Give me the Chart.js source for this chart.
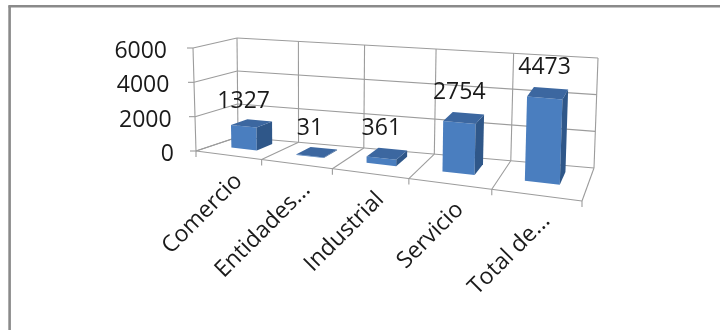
<!DOCTYPE html>
<html><head><meta charset="utf-8">
<script src="https://cdn.jsdelivr.net/npm/chart.js@4/dist/chart.umd.min.js"></script>
<style>html,body{margin:0;padding:0;background:#fff;}canvas{display:block}</style>
</head><body>
<canvas id="c" width="720" height="330"></canvas>
<script>
// ---- data ----
const categories = ['Comercio', 'Entidades...', 'Industrial', 'Servicio', 'Total de...'];
const values = [1327, 31, 361, 2754, 4473];
const yTicks = [0, 2000, 4000, 6000];
const yMin = 0, yMax = 6000;

// ---- 3D look ----
const FONT = '"Open Sans", "DejaVu Sans", sans-serif';
const BOX = { FLB:[196,151], FRB:[582,201], FLT:[193,48], FRT:[586,82],
              BLB:[238,137], BRB:[594,168], BLT:[237,38], BRT:[598,58] };
const PERSP = 1.22, D0 = 0.4, D1 = 0.8;
const COLORS = { front:'#4a7ebf', side:'#2f5789', top:'#3c67a0', grid:'#9c9c9c', text:'#1a1a1a', frame:'#8a8a8a' };
let area = null;
function lerp(a,b,t){ return [a[0]+(b[0]-a[0])*t, a[1]+(b[1]-a[1])*t]; }
function warp(u){ return u/(u+PERSP*(1-u)); }
function P(u,v,d){
  const f = warp(u);
  const fb = lerp(BOX.FLB,BOX.FRB,f), ft = lerp(BOX.FLT,BOX.FRT,f);
  const bb = lerp(BOX.BLB,BOX.BRB,f), bt = lerp(BOX.BLT,BOX.BRT,f);
  return lerp(lerp(fb,ft,v), lerp(bb,bt,v), d);
}
function U(px){ return (px-area.left)/(area.right-area.left); }
function V(py){ return (area.bottom-py)/(area.bottom-area.top); }
function poly(ctx, pts, color){
  ctx.beginPath(); ctx.moveTo(pts[0][0],pts[0][1]);
  for (let i=1;i<pts.length;i++) ctx.lineTo(pts[i][0],pts[i][1]);
  ctx.closePath(); ctx.fillStyle = color; ctx.fill();
}
function line(ctx,a,b){ ctx.beginPath(); ctx.moveTo(a[0],a[1]); ctx.lineTo(b[0],b[1]); ctx.stroke(); }

const BarEl = Chart.BarElement || Chart.elements.BarElement;
const BarCtl = Chart.BarController || Chart.controllers.BarController;

class Bar3D extends BarEl {
  static id = 'bar3d';
  static defaults = Object.assign({}, BarEl.defaults);
  static defaultRoutes = BarEl.defaultRoutes;
  draw(ctx){
    const {x, y, base, width} = this.getProps(['x','y','base','width']);
    const u0 = U(x-width/2), u1 = U(x+width/2), vt = V(y), vb = V(base);
    ctx.save();
    poly(ctx,[P(u0,vb,D0),P(u1,vb,D0),P(u1,vt,D0),P(u0,vt,D0)], COLORS.front);
    poly(ctx,[P(u1,vb,D0),P(u1,vb,D1),P(u1,vt,D1),P(u1,vt,D0)], COLORS.side);
    poly(ctx,[P(u0,vt,D0),P(u1,vt,D0),P(u1,vt,D1),P(u0,vt,D1)], COLORS.top);
    ctx.restore();
  }
}
class Bar3DController extends BarCtl {
  static id = 'bar3d';
  static defaults = Object.assign({}, BarCtl.defaults, {dataElementType: 'bar3d'});
  static overrides = BarCtl.overrides;
}
Chart.register(Bar3D, Bar3DController);

const box3d = {
  id: 'box3d',
  beforeDraw(chart){
    area = chart.chartArea;
    const ctx = chart.ctx;
    ctx.save();
    ctx.strokeStyle = COLORS.frame; ctx.lineWidth = 2.6;
    line(ctx,[9.6,6.2],[9.6,330]);
    line(ctx,[8.3,6.2],[720,6.2]);
    ctx.restore();
  },
  beforeDatasetsDraw(chart){
    area = chart.chartArea;
    const ctx = chart.ctx, xs = chart.scales.x, ys = chart.scales.y;
    const vs = yTicks.map(t => V(ys.getPixelForValue(t)));
    const step = xs.getPixelForValue(1) - xs.getPixelForValue(0);
    const bounds = [];
    for (let i=0;i<=categories.length;i++) bounds.push(U(xs.getPixelForValue(i) - step/2));
    ctx.save();
    ctx.strokeStyle = COLORS.grid; ctx.lineWidth = 1.1;
    // back wall
    vs.forEach(v => line(ctx, P(0,v,1), P(1,v,1)));
    bounds.forEach(u => line(ctx, P(u,0,1), P(u,1,1)));
    // left wall
    vs.forEach(v => line(ctx, P(0,v,0), P(0,v,1)));
    line(ctx, P(0,0,0), P(0,1,0));
    // floor
    line(ctx, P(0,0,0), P(1,0,0));
    bounds.forEach(u => line(ctx, P(u,0,0), P(u,0,1)));
    // tick marks
    vs.forEach(v => { const p = P(0,v,0); line(ctx, p, [p[0]-6, p[1]]); });
    bounds.forEach(u => { const p = P(u,0,0); line(ctx, p, [p[0], p[1]+6]); });
    ctx.restore();
  },
  afterDatasetsDraw(chart){
    const ctx = chart.ctx, xs = chart.scales.x, ys = chart.scales.y;
    ctx.save();
    ctx.fillStyle = COLORS.text;
    ctx.font = '23px ' + FONT;
    // y tick labels
    ctx.textAlign = 'right'; ctx.textBaseline = 'alphabetic';
    yTicks.forEach(t => {
      const v = V(ys.getPixelForValue(t));
      const p = P(0,v,0);
      ctx.fillText(String(t), p[0]-22-4*v, p[1]+10);
    });
    // data labels
    ctx.textAlign = 'center'; ctx.textBaseline = 'middle';
    const meta = chart.getDatasetMeta(0);
    meta.data.forEach((el, i) => {
      const uc = U(el.x), vt = V(el.y);
      const px = P(uc, vt, D0)[0], py = P(uc, vt, 1)[1] - 16;
      ctx.fillText(String(values[i]), px, py);
    });
    // category labels
    categories.forEach((c, i) => {
      const p = P(U(xs.getPixelForValue(i)), 0, 0);
      ctx.save();
      ctx.translate(p[0]+15, p[1]+27);
      ctx.rotate(-Math.PI/4);
      ctx.textAlign = 'right'; ctx.textBaseline = 'alphabetic';
      ctx.fillText(c, 0, 0);
      ctx.restore();
    });
    ctx.restore();
  }
};

new Chart(document.getElementById('c'), {
  type: 'bar3d',
  data: { labels: categories, datasets: [{ data: values, backgroundColor: COLORS.front,
          categoryPercentage: 0.8, barPercentage: 0.5, clip: false }] },
  options: {
    responsive: false, animation: false, devicePixelRatio: 1,
    layout: { padding: { left: 196, right: 720-584, top: 48, bottom: 330-151 } },
    scales: {
      x: { display: false, offset: true },
      y: { display: false, min: yMin, max: yMax, ticks: { stepSize: 2000 } }
    },
    plugins: { legend: { display: false }, tooltip: { enabled: false }, title: { display: false } }
  },
  plugins: [box3d]
});
</script>
</body></html>
